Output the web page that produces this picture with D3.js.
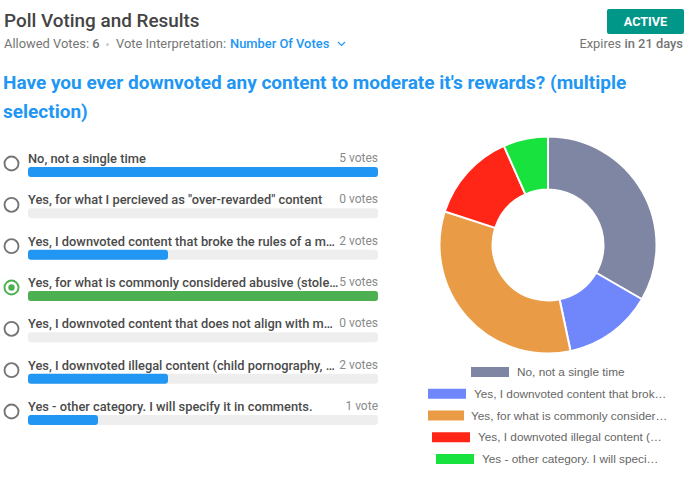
<!DOCTYPE html>
<html>

<head>
    <meta charset="utf-8" />
    <title>Poll Voting and Results</title>
    <script src="https://d3js.org/d3.v7.min.js"></script>
    <style>
        html, body { margin: 0; padding: 0; background: #fff; }
        svg { display: block; font-family: Roboto, sans-serif; }
    </style>
</head>

<body>
    <div id="my_dataviz"></div>
    <script>
        // poll options, as cut off in the list
        const optionLabels = [
            "No, not a single time",
            "Yes, for what I percieved as \"over-revarded\" content",
            "Yes, I downvoted content that broke the rules of a m…",
            "Yes, for what is commonly considered abusive (stole…",
            "Yes, I downvoted content that does not align with m…",
            "Yes, I downvoted illegal content (child pornography, …",
            "Yes - other category. I will specify it in comments."
        ];
        const optionVotes = [5, 0, 2, 5, 0, 2, 1];
        const voteLabels = ["5 votes", "0 votes", "2 votes", "5 votes", "0 votes", "2 votes", "1 vote"];
        const selectedOption = 3;

        // pie legend only lists options with votes
        const legendLabels = [
            "No, not a single time",
            "Yes, I downvoted content that brok…",
            "Yes, for what is commonly consider…",
            "Yes, I downvoted illegal content (…",
            "Yes - other category. I will speci…"
        ];
        const pieVotes = [5, 2, 5, 2, 1];
        const pieColors = ["#7f86a3", "#7087fb", "#ea9b45", "#ff2617", "#17e23e"];
        // the legend rows are centered one by one, so they start at different x
        const legendSwatchX = [471, 428, 428, 432, 436];
        const legendTextX = [517, 474, 471, 478, 482];

        const svg = d3.select("#my_dataviz")
            .append("svg")
            .attr("width", 697)
            .attr("height", 478);

        // header
        svg.append("text").attr("x", 4).attr("y", 27)
            .attr("font-size", 18.9).attr("font-weight", 500).attr("fill", "#444")
            .text("Poll Voting and Results");

        const sub = svg.append("text").attr("x", 4).attr("y", 48)
            .attr("font-size", 12.9).attr("fill", "#757575");
        sub.append("tspan").text("Allowed Votes: ");
        sub.append("tspan").attr("font-weight", 500).text("6");
        svg.append("circle").attr("cx", 107.5).attr("cy", 44.5).attr("r", 1.5).attr("fill", "#ccc");
        svg.append("text").attr("x", 116).attr("y", 48)
            .attr("font-size", 12.9).attr("fill", "#757575")
            .text("Vote Interpretation:");
        svg.append("text").attr("x", 230).attr("y", 48)
            .attr("font-size", 12.9).attr("font-weight", 500).attr("fill", "#2196f3")
            .text("Number Of Votes");
        svg.append("path").attr("d", "M338,42 L341.5,45.5 L345,42")
            .attr("fill", "none").attr("stroke", "#2196f3").attr("stroke-width", 1.2);

        // status badge
        svg.append("rect").attr("x", 607).attr("y", 9).attr("width", 77).attr("height", 25)
            .attr("rx", 2).attr("fill", "#009688");
        svg.append("text").attr("x", 645.5).attr("y", 26).attr("text-anchor", "middle")
            .attr("font-size", 12.7).attr("font-weight", 700).attr("fill", "#fff")
            .text("ACTIVE");
        const expires = svg.append("text").attr("x", 683).attr("y", 48).attr("text-anchor", "end")
            .attr("font-size", 12.9).attr("fill", "#757575");
        expires.append("tspan").text("Expires ");
        expires.append("tspan").attr("font-weight", 500).text("in 21 days");

        // question
        const question = svg.append("g").attr("font-size", 19).attr("font-weight", 700).attr("fill", "#2196f3");
        question.append("text").attr("x", 3).attr("y", 89)
            .text("Have you ever downvoted any content to moderate it's rewards? (multiple");
        question.append("text").attr("x", 3).attr("y", 118).text("selection)");

        // option list
        const x = d3.scaleLinear().domain([0, 5]).range([28, 378]);
        const y = d3.scalePoint().domain(d3.range(optionLabels.length)).range([167, 415]);

        const rows = svg.append("g")
            .selectAll("g")
            .data(optionLabels)
            .join("g")
            .attr("transform", (d, i) => `translate(0,${y(i)})`);

        rows.append("rect")
            .attr("x", x(0)).attr("y", 0)
            .attr("width", x(5) - x(0)).attr("height", 10)
            .attr("rx", 3).attr("fill", "#eeeeee");

        rows.append("rect")
            .attr("x", x(0)).attr("y", 0)
            .attr("width", (d, i) => x(optionVotes[i]) - x(0)).attr("height", 10)
            .attr("rx", 3)
            .attr("fill", (d, i) => i === selectedOption ? "#4caf50" : "#2196f3");

        rows.append("circle")
            .attr("cx", 11.5).attr("cy", -3.5).attr("r", 7)
            .attr("fill", "#fff").attr("stroke-width", 1.9)
            .attr("stroke", (d, i) => i === selectedOption ? "#4caf50" : "#757575");

        rows.filter((d, i) => i === selectedOption).append("circle")
            .attr("cx", 11.5).attr("cy", -3.5).attr("r", 3.2).attr("fill", "#4caf50");

        rows.append("text")
            .attr("x", 28).attr("y", -4)
            .attr("font-size", 12.85).attr("font-weight", 500).attr("fill", "#4a4a4a")
            .text(d => d);

        rows.append("text")
            .attr("x", 378).attr("y", -5).attr("text-anchor", "end")
            .attr("font-size", 12).attr("fill", "#8a8a8a")
            .text((d, i) => voteLabels[i]);

        // donut
        const pie = d3.pie().sort(null);
        const arc = d3.arc().innerRadius(55.5).outerRadius(108.5);

        svg.append("g")
            .attr("transform", "translate(548,245)")
            .selectAll("path")
            .data(pie(pieVotes))
            .join("path")
            .attr("d", arc)
            .attr("fill", (d, i) => pieColors[i])
            .attr("stroke", "#fff")
            .attr("stroke-width", 2);

        // legend
        const legendY = d3.scalePoint().domain(d3.range(legendLabels.length)).range([372, 459]);
        const legend = svg.append("g")
            .selectAll("g")
            .data(legendLabels)
            .join("g")
            .attr("transform", (d, i) => `translate(0,${legendY(i)})`);

        legend.append("rect")
            .attr("x", (d, i) => legendSwatchX[i]).attr("y", -5)
            .attr("width", (d, i) => i === 2 ? 36 : 38).attr("height", 10)
            .attr("fill", (d, i) => pieColors[i]);

        legend.append("text")
            .attr("x", (d, i) => legendTextX[i]).attr("y", 4)
            .attr("font-family", "'Liberation Sans', Arial, sans-serif")
            .attr("font-size", 11.8).attr("fill", "#666")
            .text(d => d);
    </script>
</body>

</html>
